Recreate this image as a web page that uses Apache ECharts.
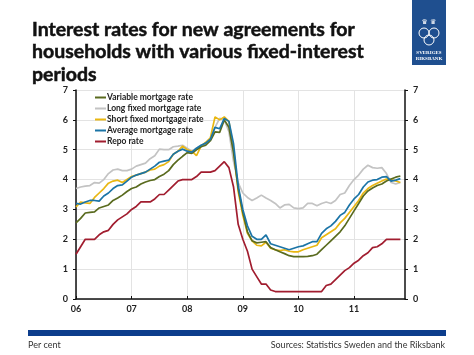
<!DOCTYPE html>
<html><head><meta charset="utf-8">
<script src="https://cdn.jsdelivr.net/npm/echarts@6/dist/echarts.min.js"></script>
<style>html,body{margin:0;padding:0;background:#fff}#c{width:474px;height:355px}</style>
</head><body><div id="c"></div>
<script>
const months = [
'2006-01','2006-02','2006-03','2006-04','2006-05','2006-06','2006-07','2006-08','2006-09','2006-10','2006-11','2006-12',
'2007-01','2007-02','2007-03','2007-04','2007-05','2007-06','2007-07','2007-08','2007-09','2007-10','2007-11','2007-12',
'2008-01','2008-02','2008-03','2008-04','2008-05','2008-06','2008-07','2008-08','2008-09','2008-10','2008-11','2008-12',
'2009-01','2009-02','2009-03','2009-04','2009-05','2009-06','2009-07','2009-08','2009-09','2009-10','2009-11','2009-12',
'2010-01','2010-02','2010-03','2010-04','2010-05','2010-06','2010-07','2010-08','2010-09','2010-10','2010-11','2010-12',
'2011-01','2011-02','2011-03','2011-04','2011-05','2011-06','2011-07','2011-08','2011-09','2011-10','2011-11','2011-12'];
const yearLabels = {'2006-01':'06','2007-01':'07','2008-01':'08','2009-01':'09','2010-01':'10','2011-01':'11'};

const variableRate = [
2.55,2.7,2.88,2.9,2.92,3.05,3.1,3.15,3.3,3.38,3.48,3.6,
3.7,3.75,3.85,3.92,3.97,4.0,4.1,4.18,4.3,4.5,4.65,4.78,
4.9,4.88,5.0,5.1,5.15,5.3,5.6,5.58,6.0,5.75,4.9,3.7,
2.9,2.25,1.95,1.88,1.9,1.92,1.72,1.65,1.58,1.52,1.45,1.42,
1.42,1.42,1.43,1.45,1.5,1.65,1.8,1.95,2.1,2.25,2.45,2.7,
2.95,3.2,3.45,3.62,3.72,3.8,3.85,3.95,4.02,4.08,4.12];
const longFixedRate = [
3.7,3.75,3.78,3.8,3.9,3.88,4.0,4.2,4.32,4.35,4.3,4.3,
4.35,4.45,4.5,4.55,4.7,4.8,5.02,5.0,5.0,5.1,5.12,5.15,
5.05,4.95,5.05,5.15,5.2,5.35,5.75,6.05,6.0,5.6,4.6,3.9,
3.55,3.4,3.3,3.38,3.48,3.38,3.3,3.2,3.05,3.15,3.17,3.05,
3.03,3.05,3.2,3.2,3.12,3.2,3.25,3.2,3.3,3.5,3.55,3.8,
4.0,4.15,4.35,4.48,4.4,4.38,4.4,4.2,3.9,3.85,3.9];
const shortFixedRate = [
3.08,3.25,3.22,3.2,3.4,3.55,3.7,3.88,3.95,3.98,3.9,4.0,
4.1,4.15,4.2,4.25,4.32,4.35,4.45,4.5,4.6,4.85,4.95,5.12,
5.0,4.95,4.8,5.12,5.25,5.4,6.1,6.0,6.1,5.95,5.0,3.6,
2.8,2.2,1.95,1.8,1.78,1.9,1.7,1.65,1.62,1.65,1.6,1.58,
1.58,1.65,1.7,1.75,1.8,2.05,2.15,2.25,2.35,2.55,2.7,2.9,
3.1,3.3,3.55,3.7,3.8,3.88,3.95,4.02,4.0,3.95,3.9];
const averageRate = [
3.2,3.18,3.25,3.3,3.3,3.28,3.45,3.55,3.7,3.8,3.82,3.95,
4.08,4.15,4.2,4.25,4.35,4.45,4.58,4.62,4.65,4.85,4.95,5.02,
4.95,4.92,5.05,5.15,5.22,5.35,5.75,5.7,6.05,5.95,5.2,3.8,
3.0,2.45,2.1,2.0,2.0,2.15,1.85,1.8,1.75,1.7,1.65,1.7,
1.75,1.78,1.85,1.92,1.92,2.2,2.35,2.45,2.6,2.8,2.9,3.15,
3.35,3.5,3.75,3.92,3.98,4.0,4.08,4.1,3.95,3.98,4.03];
const repoRate = [
1.5,1.75,2.0,2.0,2.0,2.15,2.25,2.3,2.5,2.65,2.75,2.85,
3.0,3.1,3.25,3.25,3.25,3.35,3.5,3.5,3.65,3.8,3.95,4.0,
4.0,4.0,4.1,4.25,4.25,4.25,4.3,4.45,4.6,4.4,3.75,2.5,
2.0,1.6,1.0,0.75,0.5,0.5,0.3,0.25,0.25,0.25,0.25,0.25,
0.25,0.25,0.25,0.25,0.25,0.25,0.45,0.5,0.65,0.8,0.95,1.05,
1.2,1.3,1.45,1.55,1.72,1.75,1.85,2.0,2.0,2.0,2.0];
const yTicks = [0,1,2,3,4,5,6,7];

const seriesDefs = [
  {name:'Variable mortgage rate', data:variableRate, color:'#5a6b1f'},
  {name:'Long fixed mortgage rate', data:longFixedRate, color:'#c3c3c3'},
  {name:'Short fixed mortgage rate', data:shortFixedRate, color:'#e9b712'},
  {name:'Average mortgage rate', data:averageRate, color:'#1b74a6'},
  {name:'Repo rate', data:repoRate, color:'#a11d2f'}
];
const drawOrder = [1,2,0,3,4];

const chart = echarts.init(document.getElementById('c'), null, {renderer:'canvas'});
const yAxisCommon = {
  type:'value', min:0, max:7, interval:1,
  axisLine:{show:true, lineStyle:{color:'#111', width:1.5}},
  axisTick:{show:true, length:3, lineStyle:{color:'#111'}},
  axisLabel:{color:'#222', fontSize:9, fontWeight:'bold', fontFamily:'Lato', margin:8,
    formatter:v=> yTicks.includes(v)? String(v):''},
};
chart.setOption({
  animation:false,
  backgroundColor:'#fff',
  grid:{left:76, right:69, top:90, bottom:56},
  title:{
    text:'Interest rates for new agreements for\nhouseholds with various fixed-interest\nperiods',
    left:27, top:13,
    textStyle:{fontFamily:'Lato', fontWeight:'bold', fontSize:19.5, lineHeight:22.5, color:'#111',
      textBorderColor:'#111', textBorderWidth:0.5}
  },
  legend:{
    orient:'vertical', left:90, top:88, itemGap:2,
    itemWidth:11, itemHeight:2, icon:'rect',
    textStyle:{fontFamily:'Lato', fontWeight:'bold', fontSize:8.5, color:'#222', padding:[0,0,0,-4]},
    data: seriesDefs.map(s=>s.name)
  },
  xAxis:{
    type:'category', data:months, boundaryGap:false,
    axisLine:{lineStyle:{color:'#111', width:1.5}},
    axisTick:{show:true, inside:true, length:3, interval:11, lineStyle:{color:'#111'}},
    axisLabel:{interval:11, color:'#222', fontSize:9, fontWeight:'bold', fontFamily:'Lato', margin:6,
      formatter:v=> yearLabels[v] || ''},
    splitLine:{show:true, interval:11, lineStyle:{color:'#e3e3e3', width:1}}
  },
  yAxis:[
    Object.assign({}, yAxisCommon, {position:'left', splitLine:{show:true, lineStyle:{color:'#e3e3e3', width:1}}}),
    Object.assign({}, yAxisCommon, {position:'right', splitLine:{show:false}})
  ],
  series: drawOrder.map(i=>{
    const s = seriesDefs[i];
    return {name:s.name, type:'line', data:s.data, yAxisIndex:0, symbol:'none',
      lineStyle:{color:s.color, width:1.7}, itemStyle:{color:s.color}};
  }),
  graphic:[
    {type:'rect', shape:{x:412, y:0, width:34, height:65}, style:{fill:'#1f4f8f'}},
    {type:'circle', shape:{cx:424, cy:33, r:5}, style:{fill:'none', stroke:'#fff', lineWidth:1}},
    {type:'circle', shape:{cx:434, cy:33, r:5}, style:{fill:'none', stroke:'#fff', lineWidth:1}},
    {type:'circle', shape:{cx:429, cy:40, r:5}, style:{fill:'none', stroke:'#fff', lineWidth:1}},
    {type:'text', style:{text:'♛ ♛', x:429, y:22, fill:'#fff', font:'7px DejaVu Sans', textAlign:'center', textVerticalAlign:'middle'}},
    {type:'text', style:{text:'SVERIGES', x:429, y:53, fill:'#fff', font:'bold 5px Liberation Serif', textAlign:'center', textVerticalAlign:'middle'}},
    {type:'text', style:{text:'RIKSBANK', x:429, y:59, fill:'#fff', font:'bold 5px Liberation Serif', textAlign:'center', textVerticalAlign:'middle'}},
    {type:'rect', shape:{x:28, y:330, width:418, height:6}, style:{fill:'#0d3d8c'}},
    {type:'text', style:{text:'Per cent', x:28, y:345, fill:'#333', font:'9px Lato', textVerticalAlign:'middle'}},
    {type:'text', style:{text:'Sources: Statistics Sweden and the Riksbank', x:445, y:345, fill:'#333', font:'9px Lato', textAlign:'right', textVerticalAlign:'middle'}}
  ]
});
</script></body></html>
